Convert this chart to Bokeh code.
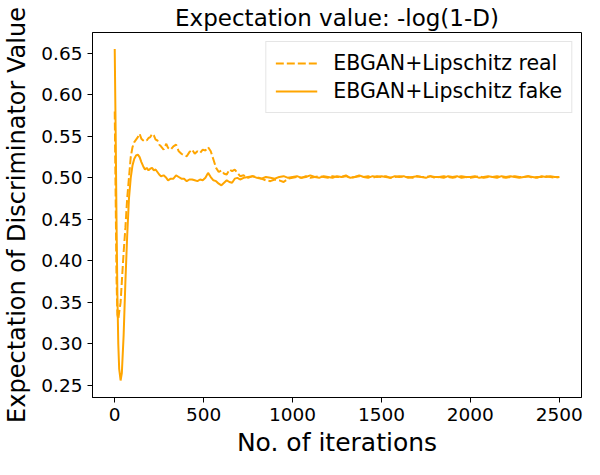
from bokeh.plotting import figure
from bokeh.models import FixedTicker, Range1d, Legend, LegendItem
from bokeh.embed import file_html
from bokeh.resources import INLINE

# ---- data ----
iterations = [0, 5, 10, 15, 20, 25, 33, 40,
              50, 60, 70, 80, 90, 100, 110, 120, 130, 140, 150, 160, 170, 180, 190, 200,
              210, 220, 230, 240, 250, 260, 275, 290,
              300, 315, 330, 345, 360, 375, 390, 405, 420, 435, 450, 465, 480, 495, 510,
              525, 540, 555, 570, 585, 600, 615, 630, 645, 660, 675, 690, 705,
              725, 750, 775, 800, 825, 850, 875, 900, 925, 950, 975, 1000,
              1025, 1050, 1075, 1100, 1125, 1150, 1175, 1200, 1225, 1250, 1275, 1300,
              1325, 1350, 1375, 1400, 1425, 1450, 1475, 1500,
              1525, 1550, 1575, 1600, 1625, 1650, 1675, 1700, 1725, 1750, 1775, 1800,
              1825, 1850, 1875, 1900, 1925, 1950, 1975, 2000,
              2025, 2050, 2075, 2100, 2125, 2150, 2175, 2200, 2225, 2250, 2275, 2300,
              2325, 2350, 2375, 2400, 2425, 2450, 2475, 2500]

real_values = [0.580, 0.480, 0.380, 0.335, 0.330, 0.338, 0.350, 0.375,
               0.410, 0.440, 0.475, 0.500, 0.525, 0.537, 0.543, 0.546, 0.549, 0.553, 0.547, 0.545,
               0.546, 0.545, 0.548, 0.549, 0.553, 0.551, 0.546, 0.545, 0.540, 0.538,
               0.534, 0.541,
               0.536, 0.534, 0.538, 0.540, 0.532, 0.529, 0.527, 0.526, 0.531, 0.534, 0.529, 0.532,
               0.530, 0.534, 0.533, 0.537, 0.532, 0.522, 0.512, 0.507, 0.509, 0.505, 0.504, 0.510,
               0.508, 0.510, 0.506, 0.502,
               0.503, 0.500, 0.502, 0.501, 0.499, 0.497, 0.496, 0.498, 0.497, 0.495, 0.499, 0.500,
               0.501, 0.500, 0.502, 0.500, 0.501, 0.502, 0.501, 0.500, 0.502, 0.501, 0.501, 0.503,
               0.500, 0.501, 0.502, 0.501, 0.502, 0.500, 0.502, 0.501,
               0.502, 0.500, 0.501, 0.502, 0.501, 0.501, 0.500, 0.502, 0.501, 0.501, 0.502, 0.500,
               0.501, 0.502, 0.501, 0.500, 0.501, 0.502, 0.501, 0.500,
               0.501, 0.502, 0.500, 0.501, 0.501, 0.502, 0.501, 0.500, 0.501, 0.502, 0.501, 0.501,
               0.502, 0.500, 0.501, 0.501, 0.502, 0.501, 0.500, 0.501]

fake_values = [0.655, 0.560, 0.450, 0.360, 0.300, 0.270, 0.256, 0.265,
               0.310, 0.375, 0.430, 0.475, 0.500, 0.515, 0.523, 0.527, 0.528, 0.525, 0.519, 0.514,
               0.510, 0.512, 0.509, 0.511, 0.512, 0.509, 0.510, 0.507, 0.504, 0.502,
               0.503, 0.500,
               0.497, 0.499, 0.499, 0.503, 0.501, 0.499, 0.499, 0.496, 0.498, 0.498, 0.497, 0.496,
               0.498, 0.497, 0.500, 0.506, 0.501, 0.497, 0.496, 0.493, 0.491, 0.494, 0.497, 0.495,
               0.494, 0.499, 0.500, 0.498,
               0.500, 0.501, 0.502, 0.500, 0.499, 0.501, 0.500, 0.499, 0.501, 0.502, 0.500, 0.501,
               0.502, 0.500, 0.501, 0.503, 0.501, 0.500, 0.502, 0.501, 0.500, 0.502, 0.501, 0.502,
               0.500, 0.501, 0.503, 0.501, 0.500, 0.502, 0.501, 0.502,
               0.501, 0.500, 0.502, 0.501, 0.502, 0.500, 0.501, 0.502, 0.501, 0.500, 0.502, 0.501,
               0.501, 0.500, 0.502, 0.501, 0.502, 0.500, 0.501, 0.501,
               0.502, 0.500, 0.501, 0.502, 0.501, 0.500, 0.502, 0.501, 0.502, 0.501, 0.500, 0.501,
               0.502, 0.501, 0.500, 0.502, 0.501, 0.502, 0.501, 0.501]

x_ticks = [0, 500, 1000, 1500, 2000, 2500]
y_ticks = [0.25, 0.30, 0.35, 0.40, 0.45, 0.50, 0.55, 0.60, 0.65]
y_tick_labels = {t: f"{t:.2f}" for t in y_ticks}

title_text = "Expectation value: -log(1-D)"
x_label = "No. of iterations"
y_label = "Expectation of Discriminator Value"
real_label = "EBGAN+Lipschitz real"
fake_label = "EBGAN+Lipschitz fake"
color = "#ffa500"
FONT = "DejaVu Sans"

p = figure(width=584, height=459, output_backend="svg", toolbar_location=None,
           x_range=Range1d(-125, 2625), y_range=Range1d(0.2355, 0.675),
           min_border_left=85, min_border_right=3, min_border_top=28, min_border_bottom=60)

p.title.text = title_text
p.title.align = "center"
p.title.text_font = FONT
p.title.text_font_size = "23px"
p.title.text_font_style = "normal"
p.title.text_color = "black"
p.title.standoff = 4

p.xgrid.visible = False
p.ygrid.visible = False
p.outline_line_color = "black"
p.outline_line_width = 1
p.background_fill_color = "white"
p.border_fill_color = "white"

for ax in (p.xaxis[0], p.yaxis[0]):
    ax.major_label_text_font = FONT
    ax.major_label_text_font_size = "18.5px"
    ax.major_label_text_color = "black"
    ax.axis_label_text_font = FONT
    ax.axis_label_text_font_style = "normal"
    ax.axis_label_text_color = "black"
    ax.major_tick_in = 0
    ax.major_tick_out = 5
    ax.minor_tick_in = 0
    ax.minor_tick_out = 0
    ax.axis_line_color = "black"
    ax.major_tick_line_color = "black"

p.xaxis.ticker = FixedTicker(ticks=x_ticks)
p.yaxis.ticker = FixedTicker(ticks=y_ticks)
p.yaxis.major_label_overrides = y_tick_labels
p.xaxis.axis_label = x_label
p.yaxis.axis_label = y_label
p.xaxis.axis_label_text_font_size = "25px"
p.yaxis.axis_label_text_font_size = "24px"
p.xaxis.major_label_standoff = 5
p.yaxis.major_label_standoff = 5
p.xaxis.axis_label_standoff = 4
p.yaxis.axis_label_standoff = 7

r_real = p.line(iterations, real_values, line_color=color, line_width=2, line_dash="8 3")
r_fake = p.line(iterations, fake_values, line_color=color, line_width=2)

legend = Legend(items=[LegendItem(label=real_label, renderers=[r_real]),
                       LegendItem(label=fake_label, renderers=[r_fake])],
                location="top_right")
legend.label_text_font = FONT
legend.label_text_font_size = "20.5px"
legend.label_text_color = "black"
legend.glyph_width = 42
legend.label_standoff = 16
legend.spacing = 4
legend.padding = 9
legend.margin = 9
legend.border_line_color = "#cccccc"
legend.border_line_width = 1
legend.background_fill_alpha = 0.8
p.add_layout(legend)

open("out.html", "w").write(file_html(p, INLINE))
